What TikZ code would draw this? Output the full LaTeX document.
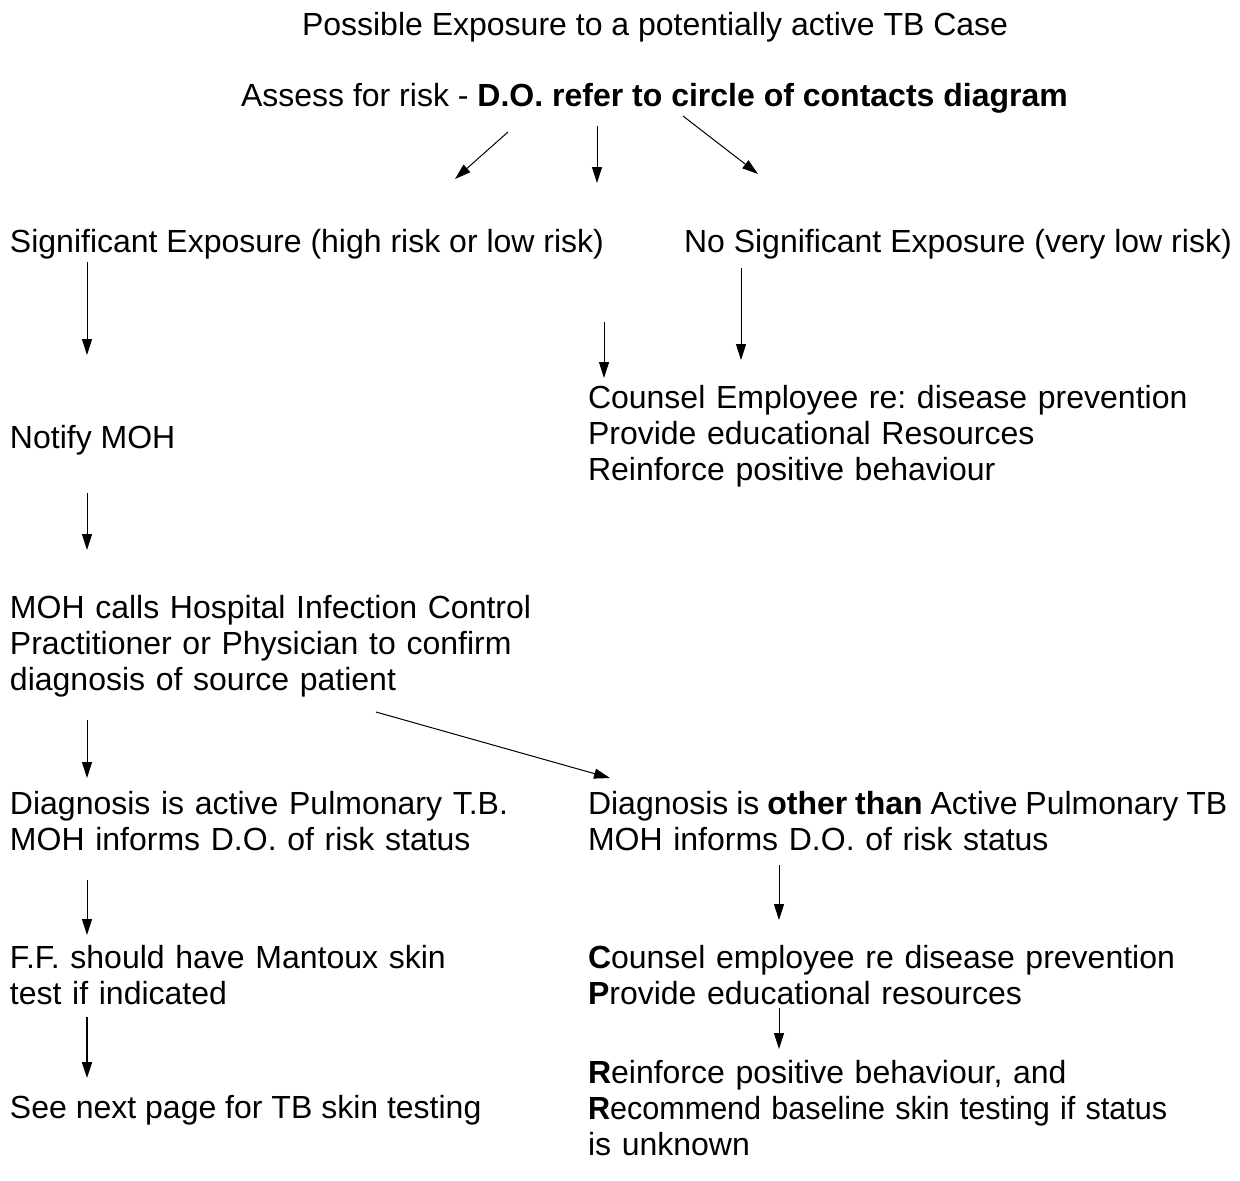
\documentclass[tikz,border=0pt]{standalone}
\usepackage{fontspec}
\usepackage{graphicx}
\setmainfont{Liberation Sans}
\usetikzlibrary{arrows.meta}
\frenchspacing
\begin{document}
\begin{tikzpicture}[x=0.5pt,y=-0.5pt,
  txt/.style={anchor=base west, inner sep=0pt, outer sep=0pt,
    font=\fontsize{16}{18}\selectfont\frenchspacing},
  blk/.style={txt, text width=#1, align=left},
  flow/.style={draw=black, line width=0.5pt, -{Triangle[length=8pt,width=5pt]}},
  heavyflow/.style={flow, line width=1pt}
]
\useasboundingbox[fill=white] (0,0) rectangle (1240,1180);

% ---- text blocks ----
\node[txt] (title) at (302,35) {Possible Exposure to a potentially active TB Case};
\node[txt] (assess) at (241,106) {Assess for risk - \textbf{D.O. refer to circle of contacts diagram}};
\node[txt] (sig) at (10,252) {Significant Exposure (high risk or low risk)};
\node[txt] (nosig) at (684,252) {No Significant Exposure (very low risk)};
\node[blk=330pt] (counselA) at (588,408) {Counsel Employee re: disease prevention\\Provide educational Resources\\Reinforce positive behaviour};
\node[txt] (notify) at (10,448) {Notify MOH};
\node[blk=300pt] (mohcalls) at (10,618) {MOH calls Hospital Infection Control\\Practitioner or Physician to confirm\\diagnosis of source patient};
\node[blk=300pt] (diagA) at (10,814) {Diagnosis is active Pulmonary T.B.\\MOH informs D.O. of risk status};
\node[blk=330pt] (diagB) at (588,814) {{\spaceskip=0.245em\relax Diagnosis is \textbf{other than} Active Pulmonary TB}\\MOH informs D.O. of risk status};
\node[blk=300pt] (ff) at (10,968) {F.F. should have Mantoux skin\\test if indicated};
\node[blk=330pt] (counselB) at (588,968) {\textbf{C}ounsel employee re disease prevention\\\textbf{P}rovide educational resources};
\node[txt] (seenext) at (10,1118) {See next page for TB skin testing};
\node[blk=330pt] (reinforce) at (588,1083) {\textbf{R}einforce positive behaviour, and\\\scalebox{0.955}[1]{\textbf{R}ecommend baseline skin testing if status}\\is unknown};

% ---- connector end points ----
\coordinate (a1s) at (508,132); \coordinate (a1e) at (455,179);
\coordinate (a2s) at (597,126); \coordinate (a2e) at (597,183);
\coordinate (a3s) at (683,116); \coordinate (a3e) at (758,174);
\coordinate (b1s) at (87,262);  \coordinate (b1e) at (87,355);
\coordinate (b2s) at (604,322); \coordinate (b2e) at (604,378);
\coordinate (b3s) at (741,268); \coordinate (b3e) at (741,360);
\coordinate (c1s) at (87,493);  \coordinate (c1e) at (87,550);
\coordinate (d1s) at (87,720);  \coordinate (d1e) at (87,778);
\coordinate (d2s) at (376,712); \coordinate (d2e) at (610,778);
\coordinate (e1s) at (87,880);  \coordinate (e1e) at (87,935);
\coordinate (e2s) at (779,865); \coordinate (e2e) at (779,920);
\coordinate (f1s) at (87,1017); \coordinate (f1e) at (87,1078);
\coordinate (f2s) at (779,1008);\coordinate (f2e) at (779,1049);

% ---- connectors ----
\draw[flow] (a1s) -- (a1e);
\draw[flow] (a2s) -- (a2e);
\draw[flow] (a3s) -- (a3e);
\draw[flow] (b1s) -- (b1e);
\draw[flow] (b2s) -- (b2e);
\draw[flow] (b3s) -- (b3e);
\draw[flow] (c1s) -- (c1e);
\draw[flow] (d1s) -- (d1e);
\draw[flow] (d2s) -- (d2e);
\draw[flow] (e1s) -- (e1e);
\draw[flow] (e2s) -- (e2e);
\draw[heavyflow] (f1s) -- (f1e);
\draw[flow] (f2s) -- (f2e);
\end{tikzpicture}
\end{document}
